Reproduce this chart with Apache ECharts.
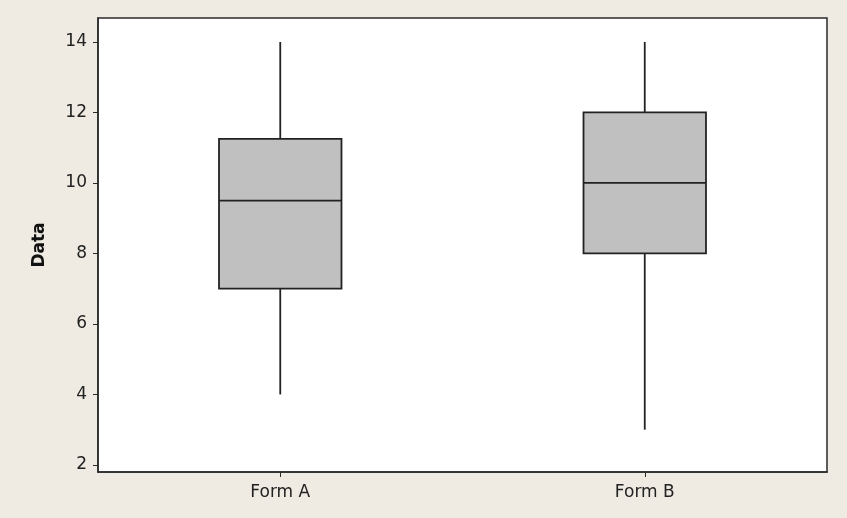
<!DOCTYPE html>
<html>
<head>
<meta charset="utf-8">
<script src="https://cdn.jsdelivr.net/npm/echarts@6/dist/echarts.min.js"></script>
<style>
html,body{margin:0;padding:0;background:#EFEBE2;}
#c{width:847px;height:518px;}
</style>
</head>
<body>
<div id="c"></div>
<script>
const categories = ['Form A', 'Form B'];
const whiskerLow = [4, 3];
const q1 = [7, 8];
const median = [9.5, 10];
const q3 = [11.25, 12];
const whiskerHigh = [14, 14];
const yTicks = [2, 4, 6, 8, 10, 12, 14];

const data = categories.map((c, i) => [i, whiskerLow[i], q1[i], median[i], q3[i], whiskerHigh[i]]);

const chart = echarts.init(document.getElementById('c'), null, {renderer: 'canvas'});
const font = 'Tahoma, "DejaVu Sans", sans-serif';
chart.setOption({
  backgroundColor: '#EFEBE2',
  animation: false,
  grid: {left: 98, right: 20, top: 18, bottom: 46, show: true, backgroundColor: '#ffffff', borderColor: '#2a2a2a', borderWidth: 1.5},
  xAxis: {
    type: 'category', data: categories, boundaryGap: true,
    axisLine: {show: true, lineStyle: {color: '#2a2a2a', width: 1.5}},
    axisTick: {show: true, alignWithLabel: true, length: 5, lineStyle: {color: '#2a2a2a'}},
    axisLabel: {color: '#222222', fontSize: 17, fontFamily: font, margin: 12},
    splitLine: {show: false}
  },
  yAxis: {
    type: 'value', min: 1.8, max: 14.68,
    name: 'Data', nameLocation: 'middle', nameGap: 50,
    nameTextStyle: {fontWeight: 'bold', fontSize: 17, color: '#111111', fontFamily: font},
    axisLine: {show: true, lineStyle: {color: '#2a2a2a', width: 1.5}},
    axisTick: {show: true, length: 5, customValues: yTicks, lineStyle: {color: '#2a2a2a'}},
    axisLabel: {color: '#222222', fontSize: 17, fontFamily: font, margin: 11, customValues: yTicks},
    splitLine: {show: false}
  },
  series: [{
    type: 'custom',
    data: data,
    encode: {x: 0, y: [1, 2, 3, 4, 5]},
    renderItem: function (params, api) {
      const idx = api.value(0);
      const band = api.size([1, 0])[0];
      const hw = band * 0.168;
      const pLow = api.coord([idx, api.value(1)]);
      const pQ1 = api.coord([idx, api.value(2)]);
      const pMed = api.coord([idx, api.value(3)]);
      const pQ3 = api.coord([idx, api.value(4)]);
      const pHigh = api.coord([idx, api.value(5)]);
      const x = pQ1[0];
      const stroke = {stroke: '#222222', lineWidth: 1.8, fill: null};
      return {
        type: 'group',
        children: [
          {type: 'line', shape: {x1: x, y1: pLow[1], x2: x, y2: pQ1[1]}, style: stroke},
          {type: 'line', shape: {x1: x, y1: pQ3[1], x2: x, y2: pHigh[1]}, style: stroke},
          {type: 'rect', shape: {x: x - hw, y: pQ3[1], width: 2 * hw, height: pQ1[1] - pQ3[1]},
            style: {fill: '#C0C0C0', stroke: '#222222', lineWidth: 1.8}},
          {type: 'line', shape: {x1: x - hw, y1: pMed[1], x2: x + hw, y2: pMed[1]}, style: stroke}
        ]
      };
    }
  }]
});
</script>
</body>
</html>
